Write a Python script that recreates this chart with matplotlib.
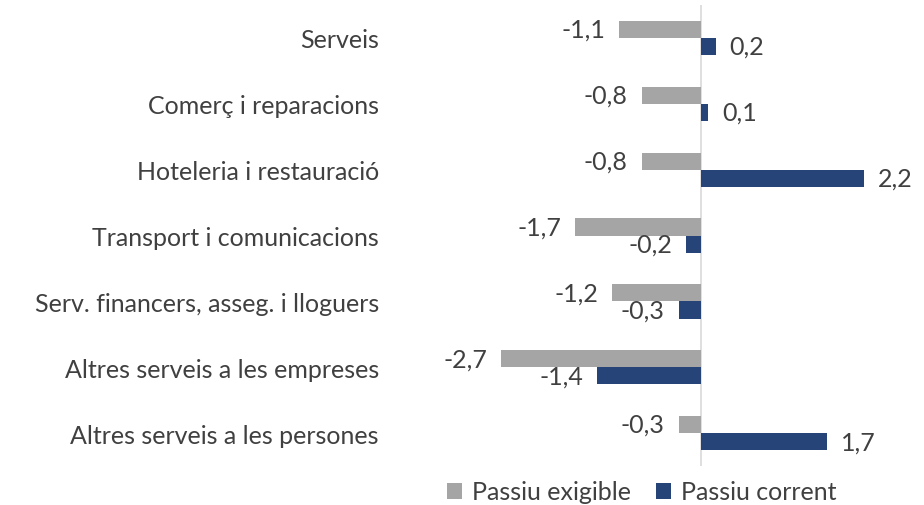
import numpy as np
import matplotlib
matplotlib.use("Agg")
import matplotlib.pyplot as plt

categories = [
    "Serveis",
    "Comerç i reparacions",
    "Hoteleria i restauració",
    "Transport i comunicacions",
    "Serv. financers, asseg. i lloguers",
    "Altres serveis a les empreses",
    "Altres serveis a les persones",
]
passiu_exigible = [-1.1, -0.8, -0.8, -1.7, -1.2, -2.7, -0.3]
passiu_corrent = [0.2, 0.1, 2.2, -0.2, -0.3, -1.4, 1.7]

GREY = "#A5A5A5"
NAVY = "#264478"
TEXT = "#404040"
FS = 18

plt.rcParams["font.family"] = ["Lato", "DejaVu Sans"]

fig = plt.figure(figsize=(9.24, 5.06), dpi=100)
ax = fig.add_axes([0.422, 0.077, 0.553, 0.911])

y = np.arange(len(categories))
h = 0.26

b1 = ax.barh(y - h / 2, passiu_exigible, height=h, color=GREY, label="Passiu exigible")
b2 = ax.barh(y + h / 2, passiu_corrent, height=h, color=NAVY, label="Passiu corrent")


def fmt(v):
    return f"{v:.1f}".replace(".", ",")


# value labels just outside the bar end
for bars, vals in ((b1, passiu_exigible), (b2, passiu_corrent)):
    for bar, v in zip(bars, vals):
        yc = bar.get_y() + bar.get_height() / 2
        dx = 10 if v >= 0 else -10
        ax.annotate(fmt(v), (v, yc), xytext=(dx, 0), textcoords="offset points",
                    ha="left" if v >= 0 else "right", va="center",
                    fontsize=FS, color=TEXT)

ax.set_xlim(-4.2, 2.7)
ax.set_ylim(len(categories) - 0.5, -0.5)
ax.axvline(0, color="#D9D9D9", lw=1.2, zorder=0)

ax.set_yticks(y)
ax.set_yticklabels(categories, fontsize=FS, color=TEXT)
ax.tick_params(axis="y", length=0, pad=8)
ax.set_xticks([])
for s in ax.spines.values():
    s.set_visible(False)

fig.legend(handles=[b1, b2], loc="center", bbox_to_anchor=(642 / 924, 1 - 493 / 506),
           ncol=2, frameon=False, fontsize=FS, handlelength=0.6, handleheight=0.6,
           handletextpad=0.4, columnspacing=1.0, labelcolor=TEXT)

fig.savefig("out.png", dpi=100)
